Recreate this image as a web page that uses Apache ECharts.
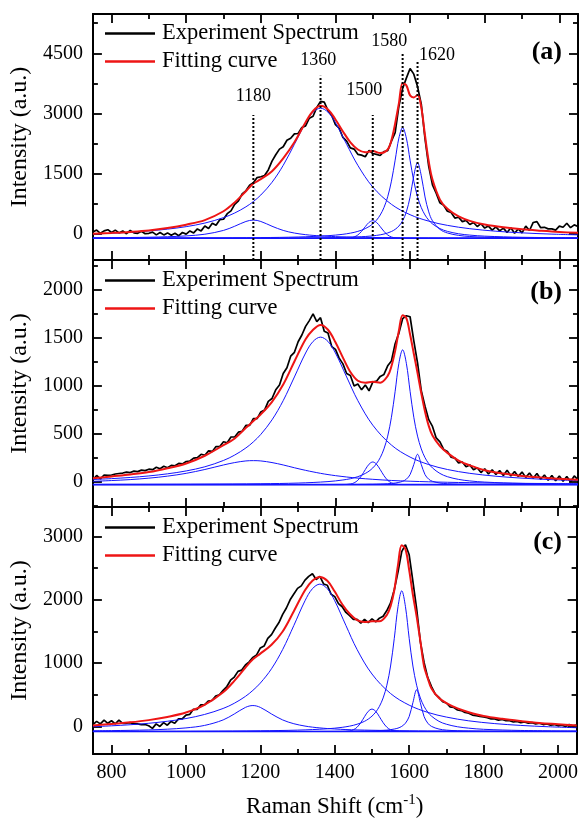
<!DOCTYPE html>
<html>
<head>
<meta charset="utf-8">
<script src="https://cdn.jsdelivr.net/npm/echarts@6/dist/echarts.min.js"></script>
<style>
html,body{margin:0;padding:0;background:#fff;}
#chart{width:581px;height:823px;}
</style>
</head>
<body>
<div id="chart"></div>
<script>
// ---------------- DATA ----------------
// x tick values
const xMajorTicks = [800, 1000, 1200, 1400, 1600, 1800, 2000];
const xMinorTicks = [900, 1100, 1300, 1500, 1700, 1900];
// y tick values per panel
const yMajorA = [0, 1500, 3000, 4500];
const yMinorA = [750, 2250, 3750, 5250];
const yMajorB = [0, 500, 1000, 1500, 2000];
const yMinorB = [-250, 250, 750, 1250, 1750, 2250];
const yMajorC = [0, 1000, 2000, 3000];
const yMinorC = [500, 1500, 2500];
// axis ranges
const xRange = [750, 2050];
const yRangeA = [-656, 5480];
const yRangeB = [-263, 2305];
const yRangeC = [-435, 3465];

// experimental spectrum sampling (cm-1)
const xExp = [750,760,770,780,790,800,810,820,830,840,
  850,860,870,880,890,900,910,920,930,940,
  950,960,970,980,990,1000,1010,1020,1030,1040,
  1050,1060,1070,1080,1090,1100,1110,1120,1130,1140,
  1150,1160,1170,1180,1190,1200,1210,1220,1230,1240,
  1250,1260,1270,1280,1290,1300,1310,1320,1330,1340,
  1350,1360,1370,1380,1390,1400,1410,1420,1430,1440,
  1450,1460,1470,1480,1490,1500,1510,1520,1530,1540,
  1550,1560,1570,1580,1590,1600,1610,1620,1630,1640,
  1650,1660,1670,1680,1690,1700,1710,1720,1730,1740,
  1750,1760,1770,1780,1790,1800,1810,1820,1830,1840,
  1850,1860,1870,1880,1890,1900,1910,1920,1930,1940,
  1950,1960,1970,1980,1990,2000,2010,2020,2030,2040,
  2050];
const expA = [40,90,10,70,100,30,90,20,70,0,
  80,20,10,60,0,10,40,-30,30,-30,
  20,-40,10,-50,30,-10,70,20,120,70,
  190,130,260,210,350,360,500,570,730,820,
  990,1070,1210,1270,1400,1420,1450,1590,1810,1970,
  2110,2170,2330,2380,2490,2500,2650,2690,2880,2930,
  3150,3300,3280,3070,2950,2720,2630,2400,2310,2140,
  2110,1980,1960,1920,2080,2000,1980,1950,2050,2070,
  2310,2520,3180,3620,3880,4120,3980,3670,3230,2370,
  1680,1220,1010,770,710,560,530,390,410,300,
  330,230,280,180,250,140,190,90,170,70,
  140,30,150,10,120,20,190,80,280,300,
  150,160,120,120,90,190,160,260,150,220,
  180];
const expB = [20,65,30,70,65,70,80,85,90,100,
  95,110,105,120,115,130,125,150,135,160,
  145,170,165,190,185,210,215,245,250,285,
  275,320,315,365,365,415,405,465,465,515,
  525,585,585,655,655,725,745,835,865,955,
  1005,1125,1185,1305,1345,1455,1525,1615,1675,1745,
  1665,1705,1565,1545,1405,1375,1285,1225,1125,1105,
  995,1015,955,1005,945,1035,1045,1095,1115,1205,
  1255,1435,1545,1695,1725,1715,1465,1235,945,785,
  645,575,455,415,335,315,255,245,195,205,
  155,175,125,145,95,135,80,125,75,115,
  65,120,60,105,55,100,45,90,35,85,
  25,70,15,65,10,60,5,55,0,60,
  20];
const expC = [30,80,40,100,50,90,40,100,50,50,
  60,40,40,30,30,10,-30,40,0,60,
  20,80,50,120,120,180,190,270,270,340,
  340,400,410,480,500,570,630,730,780,870,
  890,970,1020,1090,1130,1240,1270,1390,1450,1550,
  1640,1770,1870,2000,2090,2180,2220,2310,2370,2410,
  2320,2370,2250,2230,2090,2050,1940,1890,1800,1750,
  1690,1690,1630,1690,1640,1700,1650,1710,1740,1830,
  1950,2160,2440,2760,2870,2710,2290,1860,1340,1010,
  770,630,510,460,390,370,310,300,260,250,
  220,210,180,170,160,150,140,120,120,100,
  110,90,90,70,80,60,70,50,60,40,
  50,30,40,20,30,10,20,0,30,10,
  20];

// fitting curve sampling
const xFit = [750,800,850,900,950,1000,1050,1100,1130,1160,1180,1200,
  1230,1260,1290,1320,1340,1360,1380,1400,
  1420,1440,1460,1480,1500,1520,1540,
  1550,1560,1570,1580,1590,1600,1610,1620,1630,1640,1650,1660,
  1680,1700,1730,1760,1800,1850,1900,1950,2000,2050];
const fitA = [0,20,45,80,140,225,340,560,780,1060,1250,1360,
  1560,1880,2280,2780,3060,3190,3100,2850,
  2550,2280,2100,2030,2060,2010,2100,
  2330,2750,3250,3750,3700,3450,3400,3460,3150,2450,1800,1350,
  850,620,430,320,230,160,110,75,45,25];
const fitB = [35,55,75,100,140,190,270,380,450,560,630,700,
  830,1010,1250,1480,1580,1630,1580,1450,
  1290,1140,1050,1030,1040,1030,1100,
  1200,1360,1570,1730,1700,1530,1330,1130,920,730,580,480,
  370,300,220,170,120,85,60,45,30,20];
const fitC = [15,40,65,100,150,220,340,540,720,930,1060,1150,
  1290,1500,1820,2150,2300,2360,2300,2130,
  1930,1780,1680,1650,1660,1660,1760,
  1900,2150,2550,2860,2800,2470,2080,1740,1350,950,760,600,
  450,370,285,225,165,120,85,55,35,15];

// broad component peaks (1180 and 1360 bands)
const xBroad = [750,800,850,900,950,1000,1050,1100,1130,1160,1180,1200,
  1230,1260,1290,1320,1340,1360,1380,1400,
  1430,1460,1500,1550,1600,1650,1700,1760,1830,1900,1975,2050];
const p1180A = [-103,-100,-95,-88,-76,-55,-13,82,186,305,340,305,
  186,82,16,-24,-42,-55,-65,-73,
  -82,-88,-94,-99,-102,-104,-106,-107,-109,-110,-111,-111];
const p1360A = [-7,12,37,70,114,176,265,401,516,670,802,965,
  1282,1705,2230,2769,3032,3130,3032,2769,
  2230,1705,1165,733,474,313,208,125,62,21,-9,-30];
const p1180B = [4,12,22,37,58,87,127,174,199,216,219,216,
  199,174,145,118,102,87,74,63,
  49,37,25,13,5,-1,-6,-10,-14,-17,-19,-21];
const p1360B = [23,32,44,60,82,112,155,221,277,351,414,492,
  643,843,1089,1338,1458,1503,1458,1338,
  1089,843,588,381,256,178,127,87,57,37,22,11];
const p1180C = [-69,-66,-61,-55,-43,-23,16,103,197,301,330,301,
  197,103,43,6,-11,-23,-33,-40,
  -49,-55,-60,-65,-68,-71,-72,-74,-75,-76,-77,-77];
const p1360C = [-4,10,27,50,82,125,189,284,366,475,570,685,
  911,1215,1594,1984,2175,2247,2175,1984,
  1594,1215,828,520,336,222,148,89,45,16,-5,-20];

// narrow component peaks (1500, 1580, 1620 bands)
const xNarrow = [750,900,1050,1200,1300,1380,1420,
  1440,1450,1460,1470,1480,1490,1500,1510,1520,1530,1540,1550,1560,1570,
  1580,1590,1600,1610,1620,1630,1640,1650,1660,
  1680,1700,1730,1760,1800,1900,2050];
const p1500A = [-115,-115,-115,-115,-115,-115,-115,
  -104,-82,-31,59,176,282,325,282,176,59,-31,-82,-104,-112,
  -115,-115,-115,-115,-115,-115,-115,-115,-115,
  -115,-115,-115,-115,-115,-115,-115];
const p1580A = [-111,-109,-106,-97,-82,-50,-15,
  14,33,58,88,127,178,245,337,467,652,921,1310,1834,2385,
  2645,2385,1834,1310,921,652,467,337,245,
  127,58,-2,-35,-61,-89,-103];
const p1620A = [-114,-113,-112,-110,-106,-99,-92,
  -87,-84,-80,-75,-70,-62,-54,-42,-28,-9,18,55,108,191,
  323,544,917,1447,1770,1447,917,544,323,
  108,18,-42,-70,-87,-103,-110];
const p1500B = [-30,-30,-30,-30,-30,-30,-30,
  -24,-12,15,63,126,182,205,182,126,63,15,-12,-24,-29,
  -30,-30,-30,-30,-30,-30,-30,-30,-30,
  -30,-30,-30,-30,-30,-30,-30];
const p1580B = [-28,-27,-25,-21,-14,1,18,
  31,41,52,67,86,110,143,188,250,341,474,670,940,1231,
  1371,1231,940,670,474,341,250,188,143,
  86,52,24,8,-4,-18,-24];
const p1620B = [-30,-30,-30,-30,-29,-29,-28,
  -28,-28,-28,-27,-27,-26,-26,-25,-24,-23,-21,-18,-14,-7,
  4,26,74,179,285,179,74,26,4,
  -14,-21,-25,-27,-28,-29,-30];
const p1500C = [-80,-80,-80,-80,-80,-80,-80,
  -71,-53,-12,60,154,239,274,239,154,60,-12,-53,-71,-78,
  -80,-80,-80,-80,-80,-80,-80,-80,-80,
  -80,-80,-80,-80,-80,-80,-80];
const p1580C = [-77,-76,-74,-68,-58,-37,-14,
  5,18,35,55,81,116,163,226,317,450,651,954,1391,1891,
  2142,1891,1391,954,651,450,317,226,163,
  81,35,-5,-27,-45,-63,-72];
const p1620C = [-80,-80,-80,-79,-79,-77,-76,
  -75,-75,-74,-73,-72,-71,-70,-68,-65,-62,-58,-51,-41,-26,
  1,52,157,376,579,376,157,52,1,
  -41,-58,-68,-72,-75,-78,-79];

// fit baselines
const xEdge = [750, 2050];
const baseA = [-115, -115];
const baseB = [-30, -30];
const baseC = [-80, -80];

// peak position markers (panel a)
const markX = [1180, 1360, 1500, 1580, 1620];
const markTop = [2960, 3940, 2960, 4500, 4290];
const markText = ['1180', '1360', '1500', '1580', '1620'];
const markLabelX = [1180, 1354, 1477, 1544, 1672];
const markLabelY = [3418, 4316, 3567, 4790, 4458];

const panelLabels = ['(a)', '(b)', '(c)'];

// ---------------- CHART ----------------
const FONT = '"Liberation Serif", "Times New Roman", serif';
const zip = (xs, ys) => xs.map((x, i) => [x, ys[i]]);
const plain = v => String(v);

const grids = [
  {left: 92.5, top: 14, width: 485.5, height: 246},
  {left: 92.5, top: 260, width: 485.5, height: 247},
  {left: 92.5, top: 507, width: 485.5, height: 247}
];
const yRanges = [yRangeA, yRangeB, yRangeC];
const yMajors = [yMajorA, yMajorB, yMajorC];
const yMinors = [yMinorA, yMinorB, yMinorC];

const axLine = {show: true, onZero: false, lineStyle: {color: '#000', width: 2}};
const noLine = {show: false, onZero: false};
const tickStyle = {color: '#000', width: 1.8};

const xAxes = [], yAxes = [];
for (let i = 0; i < 3; i++) {
  const last = i === 2;
  const base = {gridIndex: i, type: 'value', min: xRange[0], max: xRange[1], splitLine: {show: false}};
  xAxes.push(Object.assign({}, base, {
    position: 'bottom', axisLine: axLine,
    axisTick: {show: true, inside: true, length: 9, lineStyle: tickStyle, customValues: xMajorTicks},
    axisLabel: {show: last, customValues: xMajorTicks, formatter: plain, margin: 9, fontSize: 20, color: '#000', fontFamily: FONT},
    name: last ? '{n|Raman Shift (cm}{s|-1}{n|)}' : '',
    nameLocation: 'middle', nameGap: 39,
    nameTextStyle: {rich: {
      n: {fontSize: 23, fontFamily: FONT, color: '#000', lineHeight: 28},
      s: {fontSize: 15, fontFamily: FONT, color: '#000', verticalAlign: 'top', lineHeight: 16}
    }}
  }));
  xAxes.push(Object.assign({}, base, {
    position: 'bottom', axisLine: noLine,
    axisTick: {show: true, inside: true, length: 5, lineStyle: tickStyle, customValues: xMinorTicks},
    axisLabel: {show: false, customValues: xMinorTicks}
  }));
  xAxes.push(Object.assign({}, base, {
    position: 'top', axisLine: axLine,
    axisTick: {show: true, inside: true, length: 9, lineStyle: tickStyle, customValues: xMajorTicks},
    axisLabel: {show: false, customValues: xMajorTicks}
  }));
  xAxes.push(Object.assign({}, base, {
    position: 'top', axisLine: noLine,
    axisTick: {show: true, inside: true, length: 5, lineStyle: tickStyle, customValues: xMinorTicks},
    axisLabel: {show: false, customValues: xMinorTicks}
  }));

  const yb = {gridIndex: i, type: 'value', min: yRanges[i][0], max: yRanges[i][1], splitLine: {show: false}};
  yAxes.push(Object.assign({}, yb, {
    position: 'left', axisLine: axLine,
    axisTick: {show: true, inside: true, length: 9, lineStyle: tickStyle, customValues: yMajors[i]},
    axisLabel: {show: true, customValues: yMajors[i], formatter: plain, margin: 10, fontSize: 20, color: '#000', fontFamily: FONT},
    name: 'Intensity (a.u.)', nameLocation: 'middle', nameGap: 57,
    nameTextStyle: {fontSize: 24, fontFamily: FONT, color: '#000'}
  }));
  yAxes.push(Object.assign({}, yb, {
    position: 'left', axisLine: noLine,
    axisTick: {show: true, inside: true, length: 5, lineStyle: tickStyle, customValues: yMinors[i]},
    axisLabel: {show: false, customValues: yMinors[i]}
  }));
  yAxes.push(Object.assign({}, yb, {
    position: 'right', axisLine: axLine,
    axisTick: {show: true, inside: true, length: 9, lineStyle: tickStyle, customValues: yMajors[i]},
    axisLabel: {show: false, customValues: yMajors[i]}
  }));
  yAxes.push(Object.assign({}, yb, {
    position: 'right', axisLine: noLine,
    axisTick: {show: true, inside: true, length: 5, lineStyle: tickStyle, customValues: yMinors[i]},
    axisLabel: {show: false, customValues: yMinors[i]}
  }));
}

const panels = [
  {exp: expA, fit: fitA, broad: [p1180A, p1360A], narrow: [p1500A, p1580A, p1620A], base: baseA},
  {exp: expB, fit: fitB, broad: [p1180B, p1360B], narrow: [p1500B, p1580B, p1620B], base: baseB},
  {exp: expC, fit: fitC, broad: [p1180C, p1360C], narrow: [p1500C, p1580C, p1620C], base: baseC}
];

const BLUE = '#1414ff', RED = '#ee1515';
const series = [];
panels.forEach((p, i) => {
  const ax = {xAxisIndex: 4 * i, yAxisIndex: 4 * i};
  series.push(Object.assign({type: 'line', name: 'Experiment Spectrum', data: zip(xExp, p.exp),
    symbol: 'none', lineStyle: {color: '#000', width: 1.7}, itemStyle: {color: '#000'}, z: 2, silent: true}, ax));
  const blue = {type: 'line', symbol: 'none', smooth: 0.35, lineStyle: {color: BLUE, width: 1}, itemStyle: {color: BLUE}, z: 3, silent: true};
  p.broad.forEach(d => series.push(Object.assign({}, blue, {data: zip(xBroad, d)}, ax)));
  p.narrow.forEach(d => series.push(Object.assign({}, blue, {data: zip(xNarrow, d)}, ax)));
  series.push(Object.assign({}, blue, {smooth: false, lineStyle: {color: BLUE, width: 1.6}, data: zip(xEdge, p.base)}, ax));
  series.push(Object.assign({type: 'line', name: 'Fitting curve', data: zip(xFit, p.fit), smooth: 0.35,
    symbol: 'none', lineStyle: {color: RED, width: 2}, itemStyle: {color: RED}, z: 4, silent: true}, ax));
});
// dotted peak markers in panel a
markX.forEach((x, k) => {
  series.push({type: 'line', xAxisIndex: 0, yAxisIndex: 0, symbol: 'none', silent: true, z: 5,
    data: [[x, yRangeA[0]], [x, markTop[k]]],
    lineStyle: {color: '#000', width: 2, type: [2, 2]}});
});
series.push({type: 'scatter', xAxisIndex: 0, yAxisIndex: 0, symbol: 'circle', symbolSize: 0.5, silent: true, z: 6,
  itemStyle: {color: '#fff', opacity: 1},
  data: markLabelX.map((x, k) => [x, markLabelY[k]]),
  label: {show: true, position: 'inside', formatter: p => markText[p.dataIndex],
    fontSize: 18, fontFamily: FONT, color: '#000', opacity: 1}});

const legendTops = [22, 269, 516];
const legends = legendTops.map(t => ({
  data: [{name: 'Experiment Spectrum', icon: 'rect'}, {name: 'Fitting curve', icon: 'rect'}],
  orient: 'vertical', left: 105, top: t,
  itemWidth: 50, itemHeight: 2.5, itemGap: 5, padding: 0, selectedMode: false,
  textStyle: {fontSize: 22.5, fontFamily: FONT, color: '#000', padding: [0, 0, 0, 2]}
}));

const labelY = [52, 292, 542];
const graphic = labelY.map((y, i) => ({
  type: 'text', x: 562, y: y,
  style: {text: panelLabels[i], font: 'bold 26px ' + FONT, fill: '#000', textAlign: 'right', textVerticalAlign: 'middle'}
}));

const chart = echarts.init(document.getElementById('chart'), null, {renderer: 'canvas'});
chart.setOption({
  animation: false,
  backgroundColor: '#fff',
  textStyle: {fontFamily: FONT},
  grid: grids,
  xAxis: xAxes,
  yAxis: yAxes,
  legend: legends,
  graphic: graphic,
  series: series
});
</script>
</body>
</html>
